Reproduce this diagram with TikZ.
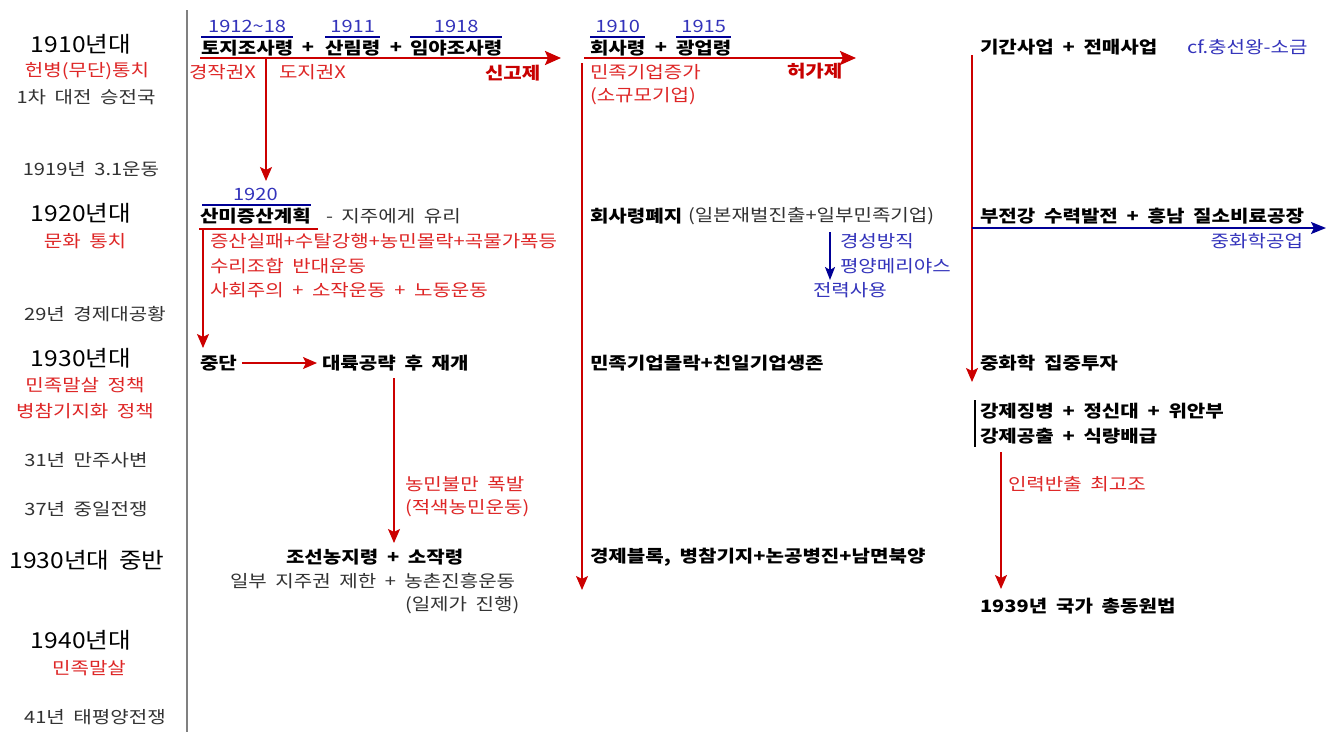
\documentclass[tikz,border=0pt]{standalone}
\usepackage{fontspec}
\newfontfamily\kr{Noto Sans CJK KR}[FakeStretch=1.18,WordSpace=1.9]
\newfontfamily\krb{Noto Sans CJK KR}[FakeStretch=1.18,WordSpace=1.9]
\newfontfamily\krg{Noto Sans CJK KR}[FakeStretch=1.12,WordSpace=1.8]
\usetikzlibrary{arrows.meta}
\definecolor{rtxt}{RGB}{222,38,38}
\definecolor{rdark}{RGB}{200,0,0}
\definecolor{rline}{RGB}{204,0,0}
\definecolor{btxt}{RGB}{51,51,187}
\definecolor{bline}{RGB}{0,0,150}
\definecolor{gtxt}{RGB}{50,50,50}
\definecolor{divider}{RGB}{128,128,128}
\begin{document}
\begin{tikzpicture}[x=1pt,y=-1pt,
  every node/.style={inner sep=0pt,outer sep=0pt},
  bk/.style={font=\krb\bfseries\fontsize{17}{20}\selectfont,text=black,anchor=west},
  bkr/.style={bk,text=rdark},
  gr/.style={font=\kr\fontsize{17}{20}\selectfont,text=gtxt,anchor=west},
  rd/.style={gr,text=rtxt},
  bu/.style={gr,text=btxt},
  yr/.style={font=\kr\fontsize{17}{20}\selectfont,text=btxt,anchor=south},
  big/.style={font=\krg\fontsize{22}{26}\selectfont,text=black},
  lg/.style={font=\kr\fontsize{17}{20}\selectfont,text=gtxt},
  lr/.style={lg,text=rtxt},
  bln/.style={draw=bline,line width=2pt},
  rarrh/.style={draw=rline,line width=2.5pt,-{Stealth[length=16pt,width=14pt,inset=3pt]}},
  rarr/.style={draw=rline,line width=1.5pt,-{Stealth[length=14pt,width=12pt,inset=3pt]}},
  rln/.style={draw=rline,line width=1.5pt},
  barr/.style={draw=bline,line width=2pt,-{Stealth[length=15pt,width=12pt,inset=3pt]}},
  barrv/.style={draw=bline,line width=2pt,-{Stealth[length=13pt,width=10pt,inset=3pt]}},
]
\useasboundingbox (0,0) rectangle (1337,732);
\fill[white] (0,0) rectangle (1337,732);

% left column
\node[big] (d1910) at (81,44) {1910년대};
\node[lr] (hb) at (87,71) {헌병(무단)통치};
\node[lg] (wwi) at (86,97) {1차 대전 승전국};
\node[lg] (m31) at (91,169) {1919년 3.1운동};
\node[big] (d1920) at (81,213) {1920년대};
\node[lr] (mh) at (85,241) {문화 통치};
\node[lg] (gd) at (95,314) {29년 경제대공황};
\node[big] (d1930) at (81,358) {1930년대};
\node[lr] (mj) at (85,385) {민족말살 정책};
\node[lr] (bc) at (85,411) {병참기지화 정책};
\node[lg] (mc) at (86,460) {31년 만주사변};
\node[lg] (jw) at (86,509) {37년 중일전쟁};
\node[big] (d1935) at (87,560) {1930년대 중반};
\node[big] (d1940) at (81,640) {1940년대};
\node[lr] (mj2) at (89,668) {민족말살};
\node[lg] (pw) at (95,717) {41년 태평양전쟁};

\coordinate (divt) at (187,10);
\coordinate (divb) at (187,732);
\draw[divider,line width=1.5pt] (divt) -- (divb);

% column 2
\node[bk] (tj) at (201,48) {토지조사령};
\node[bk,anchor=center] (p1) at (308,48) {+};
\node[bk] (sr) at (325,48) {산림령};
\node[bk,anchor=center] (p2) at (396,48) {+};
\node[bk] (iy) at (410,48) {임야조사령};
\node[yr] (y1) at ([yshift=7pt]tj.north) {1912{\char"007E}18};
\node[yr] (y2) at ([yshift=7pt]sr.north) {1911};
\node[yr] (y3) at ([yshift=7pt]iy.north) {1918};
\draw[bln] ([yshift=3pt]tj.north west) -- ([yshift=3pt]tj.north east);
\draw[bln] ([yshift=3pt]sr.north west) -- ([yshift=3pt]sr.north east);
\draw[bln] ([yshift=3pt]iy.north west) -- ([yshift=3pt]iy.north east);
\coordinate (a1s) at (200,58);
\coordinate (a1e) at (561,58);
\draw[rarrh] (a1s) -- (a1e);
\node[rd] (gj) at (189,72) {경작권X};
\node[rd] (dj) at (279,72) {도지권X};
\node[bkr] (sg) at (485,73) {신고제};
\coordinate (v1s) at (266,58);
\coordinate (v1e) at (266,181);
\draw[rarr] (v1s) -- (v1e);

\node[bk] (smj) at (200,216) {산미증산계획};
\node[gr] (jj) at (326,216) {- 지주에게 유리};
\node[yr] (y4) at ([yshift=7pt]smj.north) {1920};
\draw[bln] ([yshift=3pt,xshift=2pt]smj.north west) -- ([yshift=3pt]smj.north east);
\coordinate (u1s) at (199,229);
\coordinate (u1e) at (318,229);
\draw[rln] (u1s) -- (u1e);
\coordinate (v2s) at (203,229);
\coordinate (v2e) at (203,348);
\draw[rarr] (v2s) -- (v2e);
\node[rd] (r1) at (210,241) {증산실패+수탈강행+농민몰락+곡물가폭등};
\node[rd] (r2) at (210,266) {수리조합 반대운동};
\node[rd] (r3) at (210,290) {사회주의 + 소작운동 + 노동운동};

\node[bk] (jd) at (200,363) {중단};
\node[bk] (dr) at (322,363) {대륙공략 후 재개};
\draw[rarr] ([xshift=5pt]jd.east) -- ([xshift=-5pt]dr.west);
\coordinate (v3s) at (394,378);
\coordinate (v3e) at (394,543);
\draw[rarr] (v3s) -- (v3e);
\node[rd] (nb) at (405,484) {농민불만 폭발};
\node[rd] (jn) at (405,508) {(적색농민운동)};
\node[bk] (jsn) at (286,557) {조선농지령 + 소작령};
\node[gr] (ib) at (230,581) {일부 지주권 제한 + 농촌진흥운동};
\node[gr] (ij) at (405,605) {(일제가 진행)};

% column 3
\node[bk] (hs) at (590,48) {회사령};
\node[bk,anchor=center] (p3) at (661,48) {+};
\node[bk] (gu) at (676,48) {광업령};
\node[yr] (y5) at ([yshift=7pt]hs.north) {1910};
\node[yr] (y6) at ([yshift=7pt]gu.north) {1915};
\draw[bln] ([yshift=3pt]hs.north west) -- ([yshift=3pt]hs.north east);
\draw[bln] ([yshift=3pt]gu.north west) -- ([yshift=3pt]gu.north east);
\coordinate (a2s) at (584,58);
\coordinate (a2e) at (856,58);
\draw[rarrh] (a2s) -- (a2e);
\node[bkr] (hg) at (787,71) {허가제};
\node[rd] (mjg) at (590,72) {민족기업증가};
\node[rd] (sgm) at (590,96) {(소규모기업)};
\coordinate (v4s) at (582,63);
\coordinate (v4e) at (582,590);
\draw[rarr] (v4s) -- (v4e);

\node[bk] (hsp) at (590,216) {회사령폐지};
\node[gr] (ilb) at (688,216) {(일본재벌진출+일부민족기업)};
\coordinate (v5s) at (830,232);
\coordinate (v5e) at (830,280);
\draw[barrv] (v5s) -- (v5e);
\node[bu] (gs) at (840,241) {경성방직};
\node[bu] (py) at (840,266) {평양메리야스};
\node[bu] (js) at (813,290) {전력사용};
\node[bk] (mjm) at (590,363) {민족기업몰락+친일기업생존};
\node[bk] (gjb) at (590,557) {경제블록, 병참기지+논공병진+남면북양};

% column 4
\node[bk] (gg) at (980,47) {기간사업 + 전매사업};
\node[bu] (cf) at (1187,47) {cf.충선왕-소금};
\coordinate (v6s) at (972,55);
\coordinate (v6e) at (972,382);
\draw[rarr] (v6s) -- (v6e);
\node[bk] (bj) at (980,216) {부전강 수력발전 + 흥남 질소비료공장};
\coordinate (a3s) at (972,228);
\coordinate (a3e) at (1326,228);
\draw[barr] (a3s) -- (a3e);
\node[bu,anchor=east] (jh) at (1303,241) {중화학공업};
\node[bk] (jht) at (980,363) {중화학 집중투자};
\coordinate (bs) at (975,400);
\coordinate (be) at (975,447);
\draw[black,line width=1.2pt] (bs) -- (be);
\node[bk] (gjj) at (980,411) {강제징병 + 정신대 + 위안부};
\node[bk] (gjg) at (980,436) {강제공출 + 식량배급};
\coordinate (v7s) at (1001,452);
\coordinate (v7e) at (1001,589);
\draw[rarr] (v7s) -- (v7e);
\node[rd] (ir) at (1008,484) {인력반출 최고조};
\node[bk] (gk) at (980,606) {1939년 국가 총동원법};
\end{tikzpicture}
\end{document}
